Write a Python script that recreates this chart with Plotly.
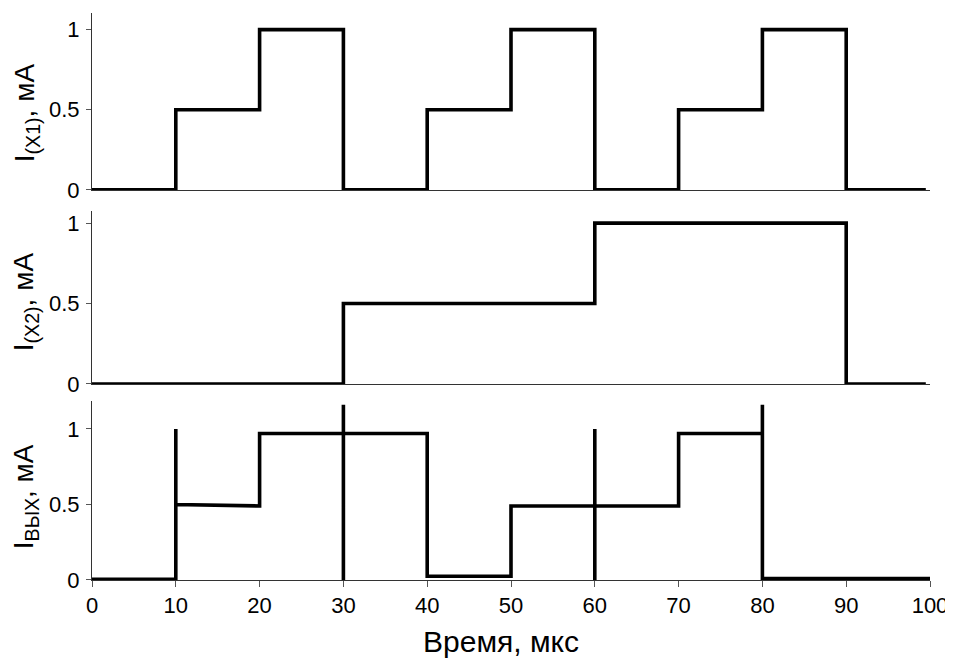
import plotly.graph_objects as go

# Panel 1: I(X1) step signal
t_x1 = [0, 10, 20, 30, 40, 50, 60, 70, 80, 90, 99.5]
i_x1 = [0, 0.5, 1, 0, 0.5, 1, 0, 0.5, 1, 0, 0]

# Panel 2: I(X2) step signal
t_x2 = [0, 30, 60, 90, 99.5]
i_x2 = [0, 0.5, 1, 0, 0]

# Panel 3: output current with switching spikes
t_out = [0, 10, 10, 10, 20, 20, 30, 30, 30, 30, 40, 40, 50, 50, 60, 60, 60, 60, 70, 70, 80, 80, 80, 100]
i_out = [0.005, 0.005, 1.0, 0.5, 0.49, 0.97, 0.97, 1.16, 0.0, 0.97, 0.97, 0.025, 0.025, 0.49, 0.49, 1.0, 0.0, 0.49, 0.49, 0.97, 0.97, 1.16, 0.01, 0.01]

x_ticks = [0, 10, 20, 30, 40, 50, 60, 70, 80, 90, 100]
y_ticks = [0, 0.5, 1]
y_ticklabels = ["0", "0.5", "1"]

y_titles = ["I<sub>(X1)</sub>, мА", "I<sub>(X2)</sub>, мА", "I<sub>ВЫХ</sub>, мА"]
x_title = "Время, мкс"

FONT = "Liberation Sans, Arial, sans-serif"
LINE_W = 3.6

fig = go.Figure()
fig.add_trace(go.Scatter(x=t_x1, y=i_x1, mode="lines", line=dict(color="black", width=LINE_W, shape="hv"),
                         xaxis="x", yaxis="y", showlegend=False))
fig.add_trace(go.Scatter(x=t_x2, y=i_x2, mode="lines", line=dict(color="black", width=LINE_W, shape="hv"),
                         xaxis="x2", yaxis="y2", showlegend=False))
fig.add_trace(go.Scatter(x=t_out, y=i_out, mode="lines", line=dict(color="black", width=LINE_W),
                         xaxis="x3", yaxis="y3", showlegend=False))

common_x = dict(range=[0, 100], showgrid=False, zeroline=False, showline=True, linecolor="#333333",
                linewidth=1, tickvals=x_ticks)
common_y = dict(showgrid=False, zeroline=False, showline=True, linecolor="#333333", linewidth=1,
                tickvals=y_ticks, ticktext=y_ticklabels, ticks="outside", ticklen=5, tickcolor="#555555",
                tickfont=dict(family=FONT, size=22, color="black"), ticklabelstandoff=2)

# axis titles placed as annotations (paper coordinates)
title_y_pos = [0.8236, 0.4903, 0.1464]
annotations = [
    dict(text=t, x=-0.0785, y=yp, xref="paper", yref="paper", xanchor="center", yanchor="middle",
         textangle=-90, showarrow=False, font=dict(family=FONT, size=28, color="black"))
    for t, yp in zip(y_titles, title_y_pos)
]
annotations.append(dict(text=x_title, x=0.488, y=-0.1076, xref="paper", yref="paper",
                        xanchor="center", yanchor="middle", showarrow=False,
                        font=dict(family=FONT, size=30, color="black")))

# the page body has an 8px default margin; sizes compensate for it
fig.update_layout(
    width=945, height=650,
    margin=dict(l=84, r=23, t=5, b=78, autoexpand=False),
    paper_bgcolor="white", plot_bgcolor="white",
    xaxis=dict(**common_x, domain=[0, 1], anchor="y", showticklabels=False, ticks=""),
    xaxis2=dict(**common_x, domain=[0, 1], anchor="y2", showticklabels=False, ticks=""),
    xaxis3=dict(**common_x, domain=[0, 1], anchor="y3", ticks="outside", ticklen=6, tickcolor="#555555",
                tickfont=dict(family=FONT, size=22, color="black")),
    yaxis=dict(**common_y, domain=[0.688, 1.0], range=[0, 1.104], anchor="x"),
    yaxis2=dict(**common_y, domain=[0.3457, 0.651], range=[0, 1.076], anchor="x2"),
    yaxis3=dict(**common_y, domain=[0, 0.3157], range=[0, 1.185], anchor="x3"),
    annotations=annotations,
)

fig.write_html("out.html")
